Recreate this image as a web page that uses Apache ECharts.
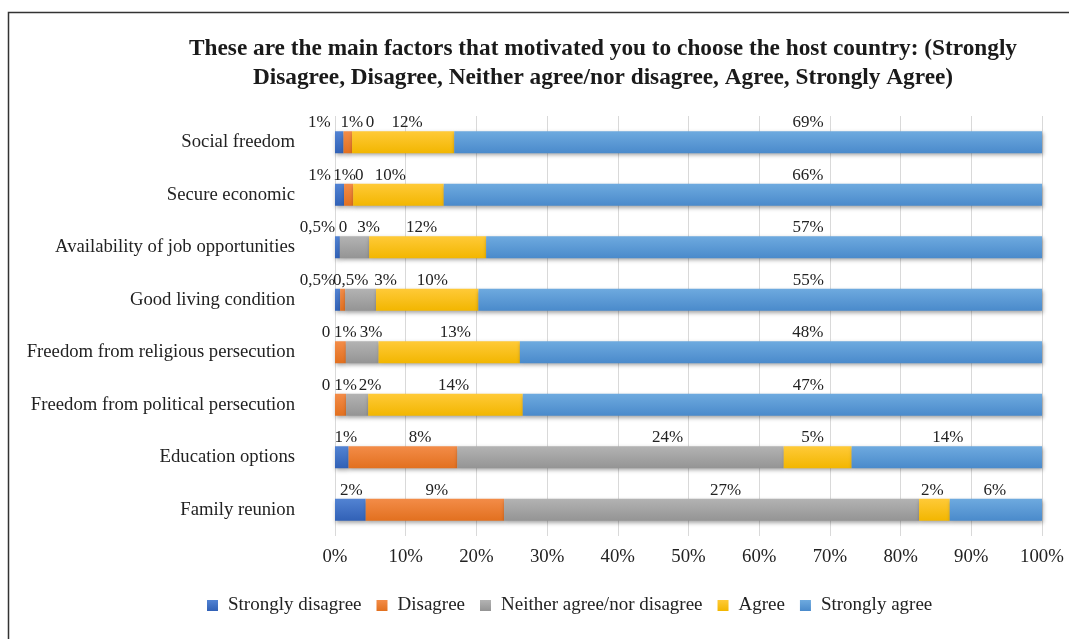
<!DOCTYPE html>
<html><head><meta charset="utf-8">
<script src="https://cdn.jsdelivr.net/npm/echarts@6/dist/echarts.min.js"></script>
<style>html,body{margin:0;padding:0;background:#fff}#c{width:1069px;height:639px}</style>
</head><body><div id="c"></div>
<script>
// ---- data (raw percentages as printed on the chart) ----
const categories = [
  'Social freedom',
  'Secure economic',
  'Availability of job opportunities',
  'Good living condition',
  'Freedom from religious persecution',
  'Freedom from political persecution',
  'Education options',
  'Family reunion'
];
const seriesNames = ['Strongly disagree', 'Disagree', 'Neither agree/nor disagree', 'Agree', 'Strongly agree'];
const stronglyDisagree = [1, 1, 0.5, 0.5, 0, 0, 1, 2];
const disagree         = [1, 1, 0, 0.5, 1, 1, 8, 9];
const neither          = [0, 0, 3, 3, 3, 2, 24, 27];
const agree            = [12, 10, 12, 10, 13, 14, 5, 2];
const stronglyAgree    = [69, 66, 57, 55, 48, 47, 14, 6];
const xTicks = [0, 10, 20, 30, 40, 50, 60, 70, 80, 90, 100];

// ---- styles ----
const colorStops = [
  ['#5283d3', '#3161b6'],
  ['#f38c48', '#e2701f'],
  ['#b3b3b3', '#949494'],
  ['#ffca38', '#f2b600'],
  ['#6eaadf', '#4a8acb']
];
// horizontal nudges (px) of the value labels, which sit above the bars
const labelOffsets = [
  [-20, -20, -20, -20, -9, -9, 4, 1],
  [4, -4, 3, 8, 5, 5, 17, 2],
  [18, 6, 14, 25, 9, 13, 47, 14],
  [4, -8, -6, 5, 6, 8, -5, -2],
  [60, 65, 44, 48, 27, 26, 1, -1]
];
const FONT = '"Liberation Serif", "Times New Roman", serif';

const rawSets = [stronglyDisagree, disagree, neither, agree, stronglyAgree];
const totals = categories.map((_, i) => rawSets.reduce((s, arr) => s + arr[i], 0));

function fmtRaw(v) {
  if (v === 0) return '0';
  return String(v).replace('.', ',') + '%';
}

const series = rawSets.map((arr, si) => ({
  name: seriesNames[si],
  type: 'bar',
  stack: 'total',
  barWidth: 22,
  itemStyle: {
    color: new echarts.graphic.LinearGradient(0, 0, 0, 1, [
      { offset: 0, color: colorStops[si][0] },
      { offset: 1, color: colorStops[si][1] }
    ]),
    shadowColor: 'rgba(0,0,0,0.35)',
    shadowBlur: 4,
    shadowOffsetX: 1,
    shadowOffsetY: 2
  },
  label: {
    show: true,
    position: 'top',
    distance: 0,
    color: '#222',
    fontFamily: FONT,
    fontSize: 17,
    formatter: p => fmtRaw(p.data.raw)
  },
  emphasis: { disabled: true },
  data: arr.map((v, i) => ({
    value: v / totals[i] * 100,
    raw: v,
    label: { offset: [labelOffsets[si][i], 0] }
  }))
}));

const chart = echarts.init(document.getElementById('c'), null, { renderer: 'canvas' });
chart.setOption({
  animation: false,
  backgroundColor: '#fff',
  title: {
    text: 'These are the main factors that motivated you to choose the host country: (Strongly\nDisagree, Disagree, Neither agree/nor disagree, Agree, Strongly Agree)',
    left: 603,
    top: 34,
    padding: 0,
    textAlign: 'center',
    textStyle: { fontFamily: FONT, fontWeight: 'bold', fontSize: 23.3, lineHeight: 29, color: '#1a1a1a' }
  },
  graphic: [{
    type: 'rect', silent: true, z: -10,
    shape: { x: 8.5, y: 12.5, width: 1200, height: 800 },
    style: { fill: null, stroke: '#333', lineWidth: 1.5 }
  }],
  legend: {
    data: seriesNames,
    left: 207,
    top: 596,
    padding: 0,
    itemWidth: 11,
    itemHeight: 11,
    itemGap: 15,
    icon: 'rect',
    textStyle: { fontFamily: FONT, fontSize: 19, color: '#222', padding: [0, 0, 0, 5] }
  },
  grid: { left: 335, right: 27, top: 116, bottom: 103, containLabel: false },
  xAxis: {
    type: 'value', min: 0, max: 100, interval: 10,
    axisLine: { show: false }, axisTick: { show: false },
    splitLine: { show: true, lineStyle: { color: '#d9d9d9', width: 1 } },
    axisLabel: {
      margin: 12, fontFamily: FONT, fontSize: 18.8, color: '#222',
      formatter: v => (xTicks.indexOf(v) >= 0 ? v + '%' : '')
    }
  },
  yAxis: {
    type: 'category', data: categories, inverse: true,
    axisLine: { show: false }, axisTick: { show: false },
    axisLabel: { margin: 40, fontFamily: FONT, fontSize: 18.7, color: '#222' }
  },
  series: series
});
</script>
</body></html>
